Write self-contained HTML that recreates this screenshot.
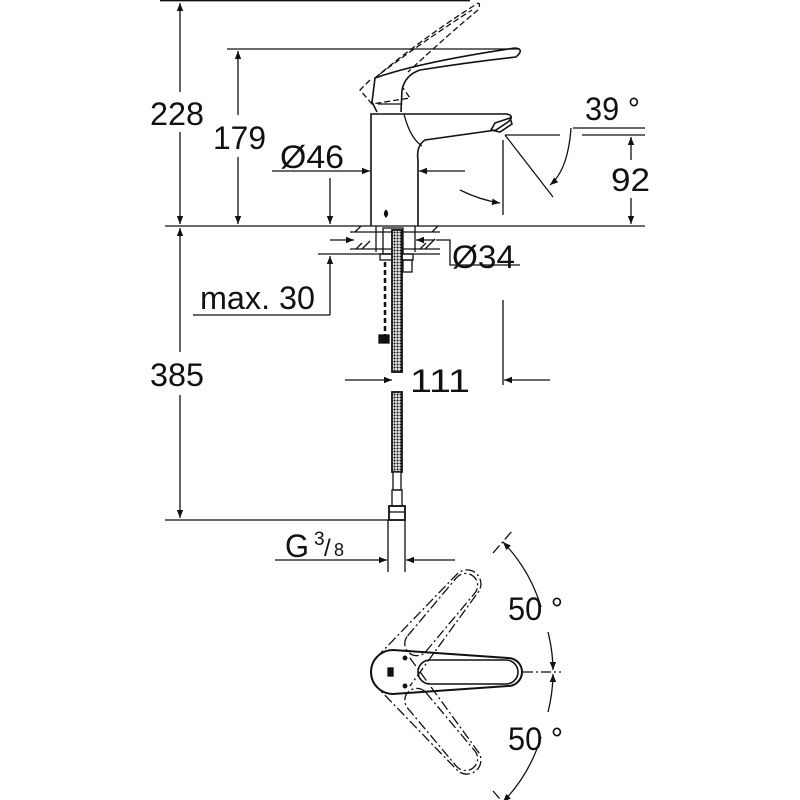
<!DOCTYPE html>
<html><head><meta charset="utf-8"><style>
html,body{margin:0;padding:0;background:#fff}
svg{display:block}
text{font-family:"Liberation Sans",sans-serif;fill:#111}
</style></head><body>
<svg width="800" height="800" viewBox="0 0 800 800" xmlns="http://www.w3.org/2000/svg">
<defs>
<marker id="a" viewBox="0 0 10 10" refX="10" refY="5" markerWidth="12" markerHeight="8" markerUnits="userSpaceOnUse" orient="auto-start-reverse"><path d="M0,1 L10,5 L0,9z" fill="#111"/></marker>
<pattern id="h" width="3" height="3" patternUnits="userSpaceOnUse"><rect width="3" height="3" fill="#fff"/><circle cx="1.5" cy="1.5" r="1.1" fill="#111"/></pattern>
</defs>
<g stroke="#111" stroke-width="1.3" fill="none">
<line x1="160" y1="0.7" x2="470" y2="0.7"/>
<line x1="165" y1="226" x2="645" y2="226"/>
<line x1="227" y1="49" x2="520" y2="49"/>
<line x1="165" y1="520" x2="395" y2="520"/>
<line x1="573" y1="128" x2="645" y2="128"/>
<line x1="505" y1="135" x2="560" y2="135"/>
<line x1="582" y1="135" x2="645" y2="135"/>
<line x1="180" y1="3" x2="180" y2="92" marker-start="url(#a)"/>
<line x1="180" y1="132" x2="180" y2="224" marker-end="url(#a)"/>
<line x1="238" y1="51" x2="238" y2="115" marker-start="url(#a)"/>
<line x1="238" y1="157" x2="238" y2="224" marker-end="url(#a)"/>
<line x1="180" y1="228" x2="180" y2="352" marker-start="url(#a)"/>
<line x1="180" y1="395" x2="180" y2="518" marker-end="url(#a)"/>
<line x1="631" y1="137" x2="631" y2="160" marker-start="url(#a)"/>
<line x1="631" y1="198" x2="631" y2="224" marker-end="url(#a)"/>
<line x1="272" y1="171" x2="370" y2="171" marker-end="url(#a)"/>
<line x1="465" y1="171" x2="419" y2="171" marker-end="url(#a)"/>
<line x1="330" y1="178" x2="330" y2="224" marker-end="url(#a)"/>
<line x1="330" y1="240" x2="354" y2="240" marker-end="url(#a)"/>
<line x1="435" y1="240" x2="416" y2="240" marker-end="url(#a)"/>
<polyline points="436,240 450,240 450,265 520,265"/>
<line x1="318" y1="254" x2="440" y2="254"/>
<line x1="330" y1="315" x2="330" y2="256" marker-end="url(#a)"/>
<line x1="193" y1="315" x2="330" y2="315"/>
<line x1="345" y1="380" x2="392" y2="380" marker-end="url(#a)"/>
<line x1="550" y1="380" x2="504" y2="380" marker-end="url(#a)"/>
<line x1="503" y1="140" x2="503" y2="215"/>
<line x1="503" y1="300" x2="503" y2="385"/>
<line x1="505" y1="135" x2="553" y2="197"/>
<path d="M571,128 Q568,170 550,185" marker-end="url(#a)"/>
<path d="M460,190 Q480,200 500,203" marker-end="url(#a)"/>
<line x1="275" y1="560" x2="387" y2="560" marker-end="url(#a)"/>
<line x1="455" y1="560" x2="406" y2="560" marker-end="url(#a)"/>
<line x1="388" y1="520" x2="388" y2="572"/>
<line x1="405" y1="520" x2="405" y2="572"/>
<path d="M371,226 L371,114 L507,114 Q515,116 508,122 L496,130 L425,140 Q416,146 418,160 L418,226" stroke-width="1.6"/>
<path d="M404,114 Q410,138 422,146"/>
<path d="M491,130 L495,123 L510,118 L512,124 L500,132 Z" stroke-width="1.6"/>
<path d="M386,210 q-3,4 0,7 q3,-3 0,-7" fill="#111"/>
<path d="M377,112 L372,102 L375,78 Q420,62 515,48 Q525,49 516,57 Q470,62 420,70 Q405,75 402,90 L401,112" stroke-width="1.6"/>
<line x1="378" y1="104" x2="401" y2="104"/>
<g stroke-dasharray="6,3">
<path d="M370,80 L360,90 L372,104 L410,98 L403,88"/>
<path d="M375,78 Q420,40 475,5 Q482,0 478,10 Q450,33 408,72"/>
<path d="M380,74 Q425,40 472,10"/>
</g>
<line x1="350" y1="232" x2="440" y2="232"/>
<line x1="350" y1="249" x2="440" y2="249"/>
<line x1="376" y1="226" x2="376" y2="252"/>
<line x1="415" y1="226" x2="415" y2="252"/>
<path d="M355,232 l6,-6 M362,249 l8,-8 M356,249 l6,-6 M432,232 l6,-6 M425,249 l10,-10 M420,249 l6,-6"/>
<rect x="383" y="228" width="20" height="26"/>
<rect x="380" y="254" width="33" height="6"/>
<rect x="403" y="260" width="9" height="12"/>
<rect x="392" y="230" width="10" height="142" fill="url(#h)" stroke-width="1.8"/>
<rect x="392" y="392" width="10" height="80" fill="url(#h)" stroke-width="1.8"/>
<rect x="393" y="472" width="8" height="18" fill="#fff"/>
<rect x="392" y="490" width="10" height="16"/>
<rect x="389" y="506" width="16" height="14" stroke-width="1.8"/>
<line x1="389" y1="512" x2="405" y2="512"/>
<path d="M385,262 L385,335" stroke-dasharray="5,3" stroke-width="2.5"/>
<rect x="379" y="335" width="10" height="8" fill="#111"/>
<g transform="translate(393,672)">
<path d="M0,-22 L115,-14 A14,14 0 0 1 115,14 L0,22 A22,22 0 0 1 0,-22 Z" stroke-width="2"/>
<rect x="25" y="-12" width="100" height="24" rx="12" stroke-width="1.6"/>
<rect x="-5" y="-4" width="5" height="8" fill="#111"/>
<circle cx="12" cy="-14" r="1.8" fill="#111"/><circle cx="12" cy="14" r="1.8" fill="#111"/>
<g stroke-dasharray="10,3,2,3">
<g transform="rotate(-50)"><path d="M0,-22 L115,-14 A14,14 0 0 1 115,14 L0,22"/><rect x="25" y="-12" width="100" height="24" rx="12"/></g>
<g transform="rotate(50)"><path d="M0,-22 L115,-14 A14,14 0 0 1 115,14 L0,22"/><rect x="25" y="-12" width="100" height="24" rx="12"/></g>
<line x1="130" y1="0" x2="168" y2="0"/>
<line x1="100" y1="-119" x2="120" y2="-142"/>
<line x1="100" y1="119" x2="120" y2="142"/>
</g>
<path d="M110,-130 A160,160 0 0 1 148,-65" marker-start="url(#a)"/>
<path d="M155,-40 A160,160 0 0 1 160,-2" marker-end="url(#a)"/>
<path d="M155,40 A160,160 0 0 0 160,2" marker-end="url(#a)"/>
<path d="M110,130 A160,160 0 0 0 148,65" marker-start="url(#a)"/>
</g>
</g>
<g font-size="32">
<text x="150" y="125" textLength="54" lengthAdjust="spacingAndGlyphs">228</text>
<text x="213" y="149" textLength="53" lengthAdjust="spacingAndGlyphs">179</text>
<text x="150" y="386" textLength="54" lengthAdjust="spacingAndGlyphs">385</text>
<text x="280" y="168" textLength="64" lengthAdjust="spacingAndGlyphs">Ø46</text>
<text x="452" y="268" textLength="63" lengthAdjust="spacingAndGlyphs">Ø34</text>
<text x="200" y="309" textLength="115" lengthAdjust="spacingAndGlyphs">max. 30</text>
<text x="410" y="392" textLength="60" lengthAdjust="spacingAndGlyphs">111</text>
<text x="611" y="191" textLength="39" lengthAdjust="spacingAndGlyphs">92</text>
<text x="585" y="120" textLength="55" lengthAdjust="spacingAndGlyphs">39 °</text>
<text x="285" y="557" textLength="24" lengthAdjust="spacingAndGlyphs">G</text>
<text x="314" y="545" font-size="19">3</text>
<text x="324" y="556" font-size="24">/</text>
<text x="334" y="556" font-size="18">8</text>
<text x="508" y="620" textLength="55" lengthAdjust="spacingAndGlyphs">50 °</text>
<text x="508" y="750" textLength="55" lengthAdjust="spacingAndGlyphs">50 °</text>
</g>
</svg>
</body></html>
